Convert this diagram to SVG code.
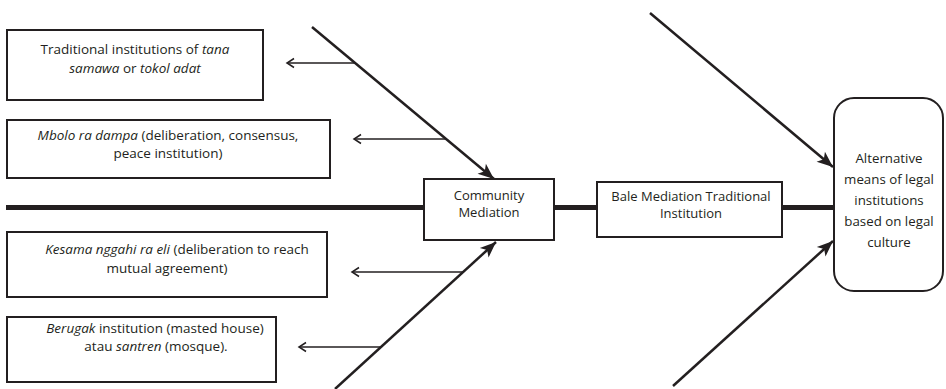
<svg xmlns="http://www.w3.org/2000/svg" width="946" height="389" viewBox="0 0 946 389">
<style>
.box{fill:#fff;stroke:#231f20;stroke-width:2}
.t{font-family:"Open Sans","Noto Sans",sans-serif;font-size:13.5px;fill:#231f20;text-anchor:middle}
.tc{font-family:"Open Sans","Noto Sans",sans-serif;font-size:13px;fill:#231f20;text-anchor:middle}
.tb{font-family:"Open Sans","Noto Sans",sans-serif;font-size:13.3px;fill:#231f20;text-anchor:middle}
.i{font-style:italic}
.big{stroke:#231f20;stroke-width:2.5;fill:none}
.sm{stroke:#231f20;stroke-width:1.5;fill:none}
</style>
<defs>
<marker id="ah" markerUnits="userSpaceOnUse" viewBox="-18 -8 20 16" refX="0" refY="0" markerWidth="20" markerHeight="16" orient="auto">
<path d="M0,0 L-16,-6.5 L-12,0 L-16,6.5 Z" fill="#231f20"/>
</marker>
<marker id="oh" markerUnits="userSpaceOnUse" viewBox="-10 -6 12 12" refX="0" refY="0" markerWidth="12" markerHeight="12" orient="auto">
<path d="M-7,-4.5 L0,0 L-7,4.5" fill="none" stroke="#231f20" stroke-width="1.5"/>
</marker>
</defs>
<rect width="946" height="389" fill="#fff"/>
<g id="connectors">
<line x1="6" y1="207.5" x2="834" y2="207.5" stroke="#231f20" stroke-width="5"/>
<line class="big" x1="312" y1="27" x2="494" y2="179" marker-end="url(#ah)"/>
<line class="big" x1="335" y1="389" x2="496" y2="242" marker-end="url(#ah)"/>
<line class="big" x1="650" y1="13" x2="833" y2="167" marker-end="url(#ah)"/>
<line class="big" x1="673" y1="386" x2="833" y2="241" marker-end="url(#ah)"/>
<line class="sm" x1="355" y1="63" x2="287" y2="63" marker-end="url(#oh)"/>
<line class="sm" x1="446" y1="139" x2="354" y2="139" marker-end="url(#oh)"/>
<line class="sm" x1="463" y1="272" x2="352" y2="272" marker-end="url(#oh)"/>
<line class="sm" x1="381" y1="347" x2="299" y2="347" marker-end="url(#oh)"/>
</g>
<g id="node-tana-samawa">
<rect class="box" x="7" y="30" width="256" height="70"/>
<text class="t" x="135" y="54">Traditional institutions of <tspan class="i">tana</tspan></text>
<text class="t" x="135" y="73"><tspan class="i">samawa</tspan> or <tspan class="i">tokol adat</tspan></text>
</g>
<g id="node-mbolo">
<rect class="box" x="7" y="120" width="323" height="58"/>
<text class="t" x="168" y="140"><tspan class="i">Mbolo ra dampa</tspan> (deliberation, consensus,</text>
<text class="t" x="168" y="158">peace institution)</text>
</g>
<g id="node-kesama">
<rect class="box" x="7" y="232" width="320" height="65"/>
<text class="t" x="177" y="254"><tspan class="i">Kesama nggahi ra eli</tspan> (deliberation to reach</text>
<text class="t" x="167" y="273">mutual agreement)</text>
</g>
<g id="node-berugak">
<rect class="box" x="7" y="317" width="269" height="65"/>
<text class="t" x="155" y="333"><tspan class="i">Berugak</tspan> institution (masted house)</text>
<text class="t" x="156" y="351">atau <tspan class="i">santren</tspan> (mosque).</text>
</g>
<g id="node-community">
<rect class="box" x="424" y="179" width="130" height="61"/>
<text class="tc" x="489" y="200">Community</text>
<text class="tc" x="489" y="217">Mediation</text>
</g>
<g id="node-bale">
<rect class="box" x="597" y="182" width="185" height="55"/>
<text class="tc" x="691" y="201">Bale Mediation Traditional</text>
<text class="tc" x="691" y="218">Institution</text>
</g>
<g id="node-alternative">
<rect class="box" x="834" y="98" width="109" height="193" rx="20" ry="20"/>
<text class="tb" x="889" y="163">Alternative</text>
<text class="tb" x="889" y="184">means of legal</text>
<text class="tb" x="889" y="205">institutions</text>
<text class="tb" x="889" y="226">based on legal</text>
<text class="tb" x="889" y="247">culture</text>
</g>
</svg>
